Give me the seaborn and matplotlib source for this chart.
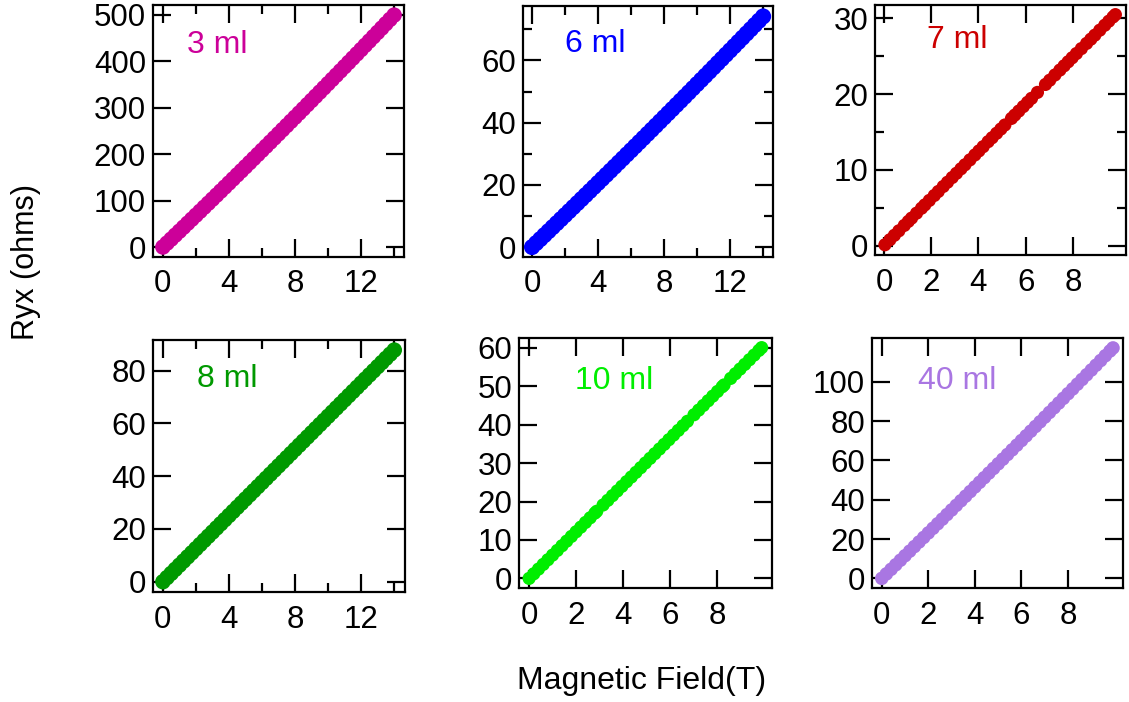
import matplotlib
matplotlib.use("Agg")
import matplotlib.pyplot as plt
from matplotlib.ticker import FixedLocator, NullLocator
import seaborn as sns
import pandas as pd

# ---------------- data ----------------
FIELD_14 = [0, 0.25, 0.5, 0.75, 1, 1.25, 1.5, 1.75, 2, 2.25, 2.5, 2.75, 3, 3.25,
            3.5, 3.75, 4, 4.25, 4.5, 4.75, 5, 5.25, 5.5, 5.75, 6, 6.25, 6.5, 6.75,
            7, 7.25, 7.5, 7.75, 8, 8.25, 8.5, 8.75, 9, 9.25, 9.5, 9.75, 10, 10.25,
            10.5, 10.75, 11, 11.25, 11.5, 11.75, 12, 12.25, 12.5, 12.75, 13, 13.25,
            13.5, 13.75, 14]

RYX_3ML = [0, 8.5, 17.0, 25.6, 34.1, 42.7, 51.3, 59.9, 68.5, 77.1, 85.8, 94.4,
           103.1, 111.8, 120.5, 129.2, 137.9, 146.7, 155.5, 164.2, 173.0, 181.8,
           190.7, 199.5, 208.4, 217.2, 226.1, 235.0, 243.9, 252.9, 261.8, 270.8,
           279.7, 288.7, 297.7, 306.8, 315.8, 324.9, 333.9, 343.0, 352.1, 361.2,
           370.3, 379.5, 388.6, 397.8, 407.0, 416.2, 425.4, 434.7, 443.9, 453.2,
           462.4, 471.7, 481.1, 490.4, 499.7]

RYX_6ML = [0, 1.28, 2.55, 3.83, 5.11, 6.40, 7.68, 8.97, 10.26, 11.55, 12.84, 14.13,
           15.43, 16.72, 18.02, 19.32, 20.62, 21.93, 23.23, 24.54, 25.85, 27.16,
           28.47, 29.79, 31.10, 32.42, 33.74, 35.06, 36.39, 37.71, 39.04, 40.37,
           41.70, 43.03, 44.36, 45.70, 47.03, 48.37, 49.71, 51.06, 52.40, 53.75,
           55.09, 56.44, 57.79, 59.15, 60.50, 61.86, 63.22, 64.58, 65.94, 67.30,
           68.67, 70.03, 71.40, 72.77, 74.14]

RYX_8ML = [0, 1.57, 3.14, 4.70, 6.27, 7.84, 9.41, 10.97, 12.54, 14.11, 15.68, 17.24,
           18.81, 20.38, 21.95, 23.51, 25.08, 26.65, 28.22, 29.78, 31.35, 32.92,
           34.49, 36.05, 37.62, 39.19, 40.76, 42.32, 43.89, 45.46, 47.03, 48.59,
           50.16, 51.73, 53.30, 54.86, 56.43, 58.00, 59.57, 61.13, 62.70, 64.27,
           65.84, 67.40, 68.97, 70.54, 72.11, 73.67, 75.24, 76.81, 78.38, 79.94,
           81.51, 83.08, 84.65, 86.21, 87.78]

FIELD_7ML = [0.04, 0.25, 0.44, 0.63, 0.86, 1.03, 1.17, 1.38, 1.59, 1.73, 1.92, 2.13,
             2.30, 2.51, 2.69, 2.89, 3.07, 3.26, 3.43, 3.64, 3.85, 4.02, 4.20, 4.41,
             4.58, 4.77, 4.95, 5.12, 5.40, 5.54, 5.71, 5.90, 6.08, 6.25, 6.50, 6.84,
             7.02, 7.24, 7.45, 7.63, 7.80, 7.97, 8.15, 8.36, 8.58, 8.76, 8.93, 9.14,
             9.35, 9.52, 9.70, 9.80]
RYX_7ML = [0.12, 0.78, 1.37, 1.96, 2.67, 3.20, 3.64, 4.29, 4.94, 5.38, 5.97, 6.62,
           7.15, 7.81, 8.37, 8.99, 9.55, 10.14, 10.67, 11.32, 11.97, 12.50, 13.06,
           13.72, 14.24, 14.83, 15.39, 15.92, 16.79, 17.23, 17.76, 18.35, 18.91,
           19.44, 20.22, 21.27, 21.83, 22.52, 23.17, 23.73, 24.26, 24.79, 25.35,
           26.00, 26.68, 27.24, 27.77, 28.43, 29.08, 29.61, 30.17, 30.48]

FIELD_10ML = [0, 0.2, 0.4, 0.6, 0.8, 1.0, 1.2, 1.4, 1.6, 1.8, 2.0, 2.2, 2.4, 2.6, 2.8,
              2.88, 3.15, 3.35, 3.55, 3.75, 3.95, 4.15, 4.35, 4.55, 4.75, 4.95, 5.15,
              5.35, 5.55, 5.75, 5.95, 6.15, 6.35, 6.55, 6.74, 7.02, 7.22, 7.42, 7.62,
              7.82, 8.02, 8.22, 8.30, 8.58, 8.78, 8.98, 9.18, 9.38, 9.58, 9.78, 9.90]
RYX_10ML = [0, 1.21, 2.43, 3.64, 4.86, 6.07, 7.28, 8.50, 9.71, 10.93, 12.14, 13.35,
            14.57, 15.78, 17.00, 17.48, 19.12, 20.33, 21.55, 22.76, 23.98, 25.19,
            26.40, 27.62, 28.83, 30.05, 31.26, 32.47, 33.69, 34.90, 36.12, 37.33,
            38.54, 39.76, 40.91, 42.61, 43.83, 45.04, 46.25, 47.47, 48.68, 49.90,
            50.38, 52.08, 53.29, 54.51, 55.72, 56.94, 58.15, 59.36, 60.09]

FIELD_40ML = [0, 0.2, 0.4, 0.6, 0.8, 1.0, 1.2, 1.4, 1.6, 1.8, 2.0, 2.2, 2.4, 2.6, 2.8,
              3.0, 3.2, 3.4, 3.6, 3.8, 4.0, 4.2, 4.4, 4.6, 4.8, 5.0, 5.2, 5.4, 5.6,
              5.8, 6.0, 6.2, 6.4, 6.6, 6.8, 7.0, 7.2, 7.4, 7.6, 7.8, 8.0, 8.2, 8.4,
              8.6, 8.8, 9.0, 9.2, 9.4, 9.6, 9.8, 9.93]
RYX_40ML = [0, 2.30, 4.60, 6.91, 9.22, 11.53, 13.84, 16.16, 18.48, 20.80, 23.12,
            25.45, 27.77, 30.10, 32.44, 34.77, 37.11, 39.45, 41.79, 44.13, 46.48,
            48.83, 51.18, 53.54, 55.89, 58.25, 60.61, 62.98, 65.34, 67.71, 70.08,
            72.45, 74.83, 77.21, 79.59, 81.97, 84.36, 86.74, 89.13, 91.53, 93.92,
            96.32, 98.72, 101.12, 103.52, 105.93, 108.34, 110.75, 113.17, 115.58,
            117.15]

SAMPLE_LABELS = ["3 ml", "6 ml", "7 ml", "8 ml", "10 ml", "40 ml"]
SAMPLE_COLORS = ["#CC0099", "#0000FF", "#CC0000", "#009900", "#00EE00", "#A976E2"]

XMAJOR = [[0, 4, 8, 12], [0, 4, 8, 12], [0, 2, 4, 6, 8],
          [0, 4, 8, 12], [0, 2, 4, 6, 8], [0, 2, 4, 6, 8]]
XMINOR = [[2, 6, 10, 14], [2, 6, 10, 14], [],
          [2, 6, 10, 14], [], []]
YMAJOR = [[0, 100, 200, 300, 400, 500], [0, 20, 40, 60], [0, 10, 20, 30],
          [0, 20, 40, 60, 80], [0, 10, 20, 30, 40, 50, 60], [0, 20, 40, 60, 80, 100]]
YMINOR = [[], [10, 30, 50, 70], [5, 15, 25], [], [], []]

X_LABEL = "Magnetic Field(T)"
Y_LABEL = "Ryx (ohms)"

series = [
    (FIELD_14, RYX_3ML), (FIELD_14, RYX_6ML), (FIELD_7ML, RYX_7ML),
    (FIELD_14, RYX_8ML), (FIELD_10ML, RYX_10ML), (FIELD_40ML, RYX_40ML),
]

# ---------------- layout / style ----------------
W, H = 1129, 702
BOXES = [(153, 404, 5, 257), (523, 773, 6, 257), (875, 1126, 5, 255),
         (153, 405, 340, 592), (519, 772, 338, 588), (872, 1123, 338, 588)]
XLIMS = [(-0.6, 14.6), (-0.55, 14.6), (-0.38, 10.25),
         (-0.6, 14.65), (-0.43, 10.34), (-0.42, 10.36)]
YLIMS = [(-21.5, 521.5), (-3.2, 77.5), (-1.23, 31.75),
         (-3.9, 91.6), (-2.5, 62.6), (-4.9, 122.2)]
LABEL_POS = [(0.135, 0.84), (0.168, 0.85), (0.207, 0.86),
             (0.175, 0.845), (0.221, 0.828), (0.183, 0.828)]
MSIZE = [125, 135, 90, 125, 90, 95]

sns.set_theme(style="ticks")
plt.rcParams["font.family"] = ["Liberation Sans", "DejaVu Sans"]
plt.rcParams["axes.linewidth"] = 1.6
for key in ["text.color", "axes.labelcolor", "xtick.color", "ytick.color",
            "axes.edgecolor", "xtick.labelcolor", "ytick.labelcolor"]:
    plt.rcParams[key] = "black"

fig = plt.figure(figsize=(W / 100, H / 100), dpi=100)

for i, ((xs, ys), box) in enumerate(zip(series, BOXES)):
    l, r, t, b = box
    ax = fig.add_axes([l / W, (H - b) / H, (r - l) / W, (b - t) / H])
    df = pd.DataFrame({"B": xs, "R": ys})
    sns.scatterplot(data=df, x="B", y="R", ax=ax, color=SAMPLE_COLORS[i],
                    s=MSIZE[i], linewidth=0, edgecolor="none", legend=False,
                    clip_on=False, zorder=3)
    ax.set_xlim(*XLIMS[i])
    ax.set_ylim(*YLIMS[i])
    ax.xaxis.set_major_locator(FixedLocator(XMAJOR[i]))
    ax.yaxis.set_major_locator(FixedLocator(YMAJOR[i]))
    ax.xaxis.set_minor_locator(FixedLocator(XMINOR[i]) if XMINOR[i] else NullLocator())
    ax.yaxis.set_minor_locator(FixedLocator(YMINOR[i]) if YMINOR[i] else NullLocator())
    ax.tick_params(which="both", direction="in", top=True, right=True,
                   width=1.6, color="black", labelcolor="black")
    ax.tick_params(which="major", length=13)
    ax.tick_params(which="minor", length=6.5)
    ax.tick_params(axis="x", which="major", labelsize=22.5, pad=9)
    ax.tick_params(axis="y", which="major", labelsize=22.5, pad=5)
    for sp in ax.spines.values():
        sp.set_visible(True)
        sp.set_color("black")
        sp.set_linewidth(1.6)
    ax.set_xlabel("")
    ax.set_ylabel("")
    ax.text(LABEL_POS[i][0], LABEL_POS[i][1], SAMPLE_LABELS[i], transform=ax.transAxes,
            color=SAMPLE_COLORS[i], fontsize=23, ha="left", va="center")

fig.text(642 / W, 1 - 681 / H, X_LABEL, fontsize=23, ha="center", va="center",
         color="black")
fig.text(26 / W, 1 - 262 / H, Y_LABEL, fontsize=22, rotation=90, ha="center",
         va="center", color="black")

fig.savefig("out.png", dpi=100, facecolor="white")
